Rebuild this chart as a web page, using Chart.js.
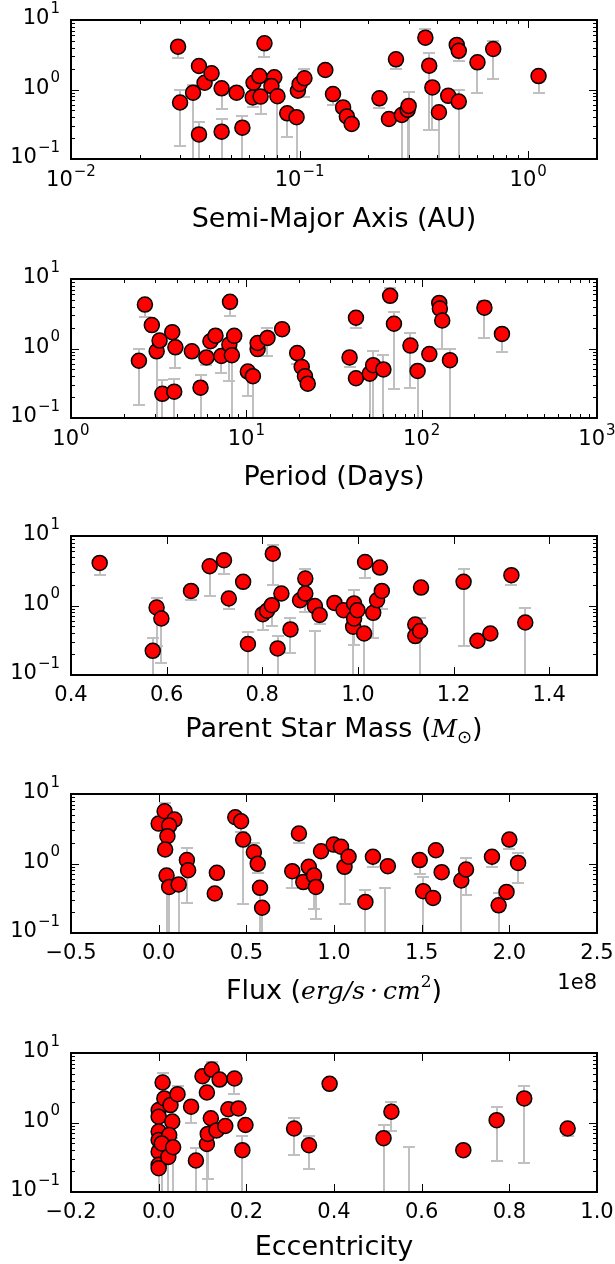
<!DOCTYPE html>
<html>
<head>
<meta charset="utf-8">
<script src="https://cdn.jsdelivr.net/npm/chart.js@4.4.0/dist/chart.umd.min.js"></script>
<style>
html, body { margin: 0; padding: 0; background: #fff; overflow: hidden; }
body { width: 615px; height: 1264px; position: relative; }
canvas { position: absolute; left: 0; }
</style>
</head>
<body>
<canvas id="c1" width="615" height="240" style="top:0px"></canvas>
<canvas id="c2" width="615" height="240" style="top:259px"></canvas>
<canvas id="c3" width="615" height="240" style="top:516px"></canvas>
<canvas id="c4" width="615" height="240" style="top:774px"></canvas>
<canvas id="c5" width="615" height="240" style="top:1033px"></canvas>
<script>
// planet mass (y, all panels) against five properties; lo/hi = ends of error bars (null = hidden)
const yTicks = [0.1, 1, 10];

// semi-major axis (AU)
const sma = [0.0294,0.030,0.0342,0.0363,0.0384,0.0363,0.0412,0.0456,0.0456,0.053,0.0562,0.0629,0.0624,0.0667,0.0675,0.0702,0.0775,0.0753,0.080,0.0883,0.097,0.0983,0.100,0.105,0.1296,0.140,0.155,0.161,0.169,0.2236,0.246,0.264,0.280,0.297,0.300,0.355,0.369,0.381,0.407,0.447,0.487,0.497,0.497,0.600,0.703,1.11];
const massA = [4.13,0.65,0.90,2.18,1.25,0.226,1.71,1.04,0.247,0.90,0.282,1.25,0.77,1.56,0.79,4.62,1.50,1.12,0.80,0.454,0.40,0.96,1.20,1.45,1.91,0.86,0.553,0.41,0.319,0.746,0.376,2.72,0.43,0.51,0.58,5.57,2.2,1.07,0.47,0.81,4.38,3.6,0.67,2.46,3.83,1.56];
const loA = [2.8,0.155,0.01,null,null,0.01,null,0.52,0.01,null,0.01,null,0.566,null,0.45,2.9,null,null,0.01,0.21,0.01,null,null,0.79,null,0.6,null,null,null,0.55,null,2.0,0.01,0.01,0.01,null,0.26,0.26,0.01,null,null,2.6,0.01,0.9,1.4,0.9];
const hiA = [null,1.0,1.15,null,null,0.34,null,null,0.38,null,0.42,null,null,null,null,null,null,null,1.0,null,null,null,null,1.95,null,null,null,null,null,null,null,null,null,null,0.93,7.3,3.4,null,null,1.0,5.2,null,1.0,null,5.0,null];

// period (days)
const period = [2.44,2.64,2.89,3.08,3.2,3.32,3.78,3.94,3.88,4.89,5.48,6.24,5.92,6.67,7.2,8.07,8.0,8.27,8.53,10.2,10.9,11.6,11.6,13.2,16.0,19.5,20.7,21.6,22.4,38.8,42.2,42.2,50.6,52.9,60.5,66.1,69.5,86.3,94.8,110.6,126,127,131,145,228,287];
const massP = [0.666,4.29,2.17,0.91,1.30,0.223,1.72,1.04,0.239,0.91,0.273,1.27,0.744,1.53,0.78,4.69,1.14,0.80,1.52,0.466,0.40,0.98,1.2,1.42,1.90,0.86,0.544,0.40,0.312,0.744,2.77,0.373,0.435,0.575,0.50,5.73,2.27,1.10,0.476,0.83,4.53,3.75,2.53,0.68,3.87,1.62];
const loP = [0.153,2.84,null,0.01,null,0.01,null,0.52,0.01,null,0.01,null,0.57,null,0.45,2.93,0.34,0.01,null,0.21,0.01,null,null,0.79,null,0.6,null,null,null,0.55,2.0,null,0.01,0.01,0.01,null,0.26,0.27,0.01,null,null,null,1.0,0.01,1.40,0.90];
const hiP = [1.0,null,null,null,null,0.35,null,null,0.37,null,0.41,null,null,null,null,null,null,1.0,null,null,null,null,null,1.95,null,null,null,null,null,null,null,null,null,0.93,0.80,7.3,3.4,1.65,null,1.0,5.3,null,null,1.0,4.9,null];

// parent star mass (solar masses)
const starMass = [0.46,0.571,0.579,0.589,0.651,0.69,0.72,0.73,0.76,0.77,0.801,0.81,0.82,0.822,0.832,0.84,0.859,0.879,0.89,0.89,0.91,0.92,0.951,0.970,0.99,0.992,0.992,0.999,1.013,1.015,1.032,1.04,1.046,1.05,1.12,1.12,1.13,1.132,1.221,1.25,1.277,1.321,1.35,0.91];
const massM = [4.1,0.223,0.936,0.65,1.62,3.67,4.48,1.26,2.19,0.279,0.75,0.84,1.01,5.57,0.241,1.49,0.453,1.19,2.44,1.49,0.98,0.73,1.09,0.857,0.494,1.07,0.65,0.857,0.396,4.23,0.785,1.19,3.51,1.62,0.533,0.363,0.43,1.81,2.19,0.311,0.396,2.73,0.57,0.06];
const loM = [2.73,0.01,0.26,0.15,1.19,1.36,2.88,0.876,null,0.01,0.45,null,0.5,2.0,0.01,null,0.205,null,null,0.8,null,0.55,null,null,0.01,null,0.27,null,0.01,2.5,0.34,null,null,0.9,null,null,0.01,null,0.26,null,null,1.96,0.01,0.01];
const hiM = [null,0.336,1.30,null,null,null,null,null,null,0.42,null,null,null,7.3,0.37,null,0.66,null,3.3,null,null,null,null,null,null,1.65,null,null,null,null,null,null,null,null,null,null,0.67,null,3.3,null,null,null,0.906,0.43];

// flux (units of 1e8 erg/s/cm^2)
const flux = [0.0,0.034,0.09,0.06,0.05,0.037,0.045,0.06,0.114,0.161,0.168,0.332,0.32,0.437,0.47,0.482,0.543,0.565,0.578,0.59,0.762,0.80,0.825,0.856,0.886,0.897,0.926,0.998,1.04,1.06,1.083,1.179,1.222,1.307,1.489,1.509,1.565,1.581,1.614,1.726,1.753,1.901,1.939,1.984,2.0,2.05,1.29];
const massF = [3.75,5.64,4.28,3.51,2.47,1.59,0.67,0.46,0.50,1.12,0.80,0.735,0.37,4.63,4.05,2.21,1.45,0.99,0.447,0.231,0.776,2.70,0.54,0.896,0.67,0.46,1.50,1.87,1.74,0.896,1.25,0.28,1.25,0.915,1.12,0.40,0.32,1.55,0.75,0.57,0.82,1.25,0.25,0.39,2.21,1.02,0.06];
const loF = [null,null,null,null,null,null,0.01,0.01,0.01,0.27,null,null,null,null,2.84,0.258,null,0.72,0.01,0.01,0.45,2.0,null,null,0.22,0.157,null,null,null,0.26,null,0.01,0.9,null,0.7,0.01,null,null,null,0.01,0.35,0.9,0.01,null,1.6,0.53,0.01];
const hiF = [null,7.3,null,null,null,null,null,null,null,1.65,null,null,null,null,null,null,1.95,null,null,null,null,null,null,null,null,null,null,null,null,null,null,0.42,null,null,null,0.65,null,null,null,null,1.2,null,0.38,null,null,1.4,0.45];

// eccentricity
const ecc = [0.009,0,0,0,0,0,0,0,0.013,0.027,0.031,0.024,0.007,0.022,0.033,0.043,0.074,0.085,0.10,0.121,0.139,0.173,0.11,0.119,0.11,0.112,0.132,0.152,0.159,0.182,0.198,0.191,0.309,0.343,0.39,0.513,0.531,0.57,0.695,0.771,0.834,0.933];
const massE = [3.76,1.51,1.21,0.74,0.56,0.38,0.246,0.22,2.22,1.78,1.03,0.66,0.50,0.32,0.44,2.56,1.69,0.284,4.63,5.78,4.15,4.3,2.70,1.15,0.49,0.685,0.77,0.89,1.55,1.59,0.92,0.40,0.82,0.47,3.6,0.595,1.43,0.06,0.40,1.08,2.22,0.82];
const loE = [null,null,null,null,null,null,null,0.01,null,null,0.6,null,0.01,0.01,0.01,null,1.0,0.01,null,null,null,2.56,null,null,0.01,0.155,null,null,null,null,null,0.01,0.34,0.216,null,0.01,0.75,0.01,null,0.275,0.26,0.63];
const hiE = [5.2,null,null,null,null,null,null,null,null,null,null,null,null,null,null,3.3,null,0.43,null,7.3,null,null,null,null,null,null,null,null,null,2.0,null,0.63,1.15,0.65,null,0.92,1.99,0.45,null,1.65,3.37,null];

const SANS = 'DejaVu Sans';
const TICKFONT = '21px ' + SANS;
const EXPFONT = '15px ' + SANS;
Chart.defaults.font.family = SANS;
Chart.defaults.color = '#000';

function linLabel(v) {
  return v.toFixed(1).replace('-', '−');
}
function logMinor(min, max) {
  const out = [];
  for (let e = Math.floor(Math.log10(min)); e <= Math.ceil(Math.log10(max)); e++) {
    for (let m = 2; m < 10; m++) {
      const v = m * Math.pow(10, e);
      if (v > min * 1.0001 && v < max * 0.9999) out.push(v);
    }
  }
  return out;
}

// "10" with a raised exponent; anchor 'right' (y axis) or 'center' (x axis)
function drawPow(ctx, v, ax, ay, anchor, expRise) {
  const e = String(Math.round(Math.log10(v))).replace('-', '−');
  ctx.textBaseline = 'middle';
  ctx.textAlign = 'left';
  ctx.font = TICKFONT;
  const wb = ctx.measureText('10').width;
  ctx.font = EXPFONT;
  const we = ctx.measureText(e).width + 1;
  const x0 = anchor === 'right' ? ax - wb - we : ax - (wb + we) / 2;
  ctx.font = TICKFONT;
  ctx.fillText('10', x0, ay);
  ctx.font = EXPFONT;
  ctx.fillText(e, x0 + wb + 1, ay - expRise);
}

function deco(cfg) {
  return {
    id: 'deco',
    beforeDatasetsDraw(chart) {
      const {ctx, chartArea: a} = chart;
      const x = chart.scales.x, y = chart.scales.y;
      ctx.save();
      ctx.beginPath();
      ctx.rect(a.left, a.top, a.right - a.left, a.bottom - a.top);
      ctx.clip();
      ctx.strokeStyle = '#c0c0c0';
      ctx.lineWidth = 2;
      chart.data.datasets[0].data.forEach(p => {
        const px = Math.round(x.getPixelForValue(p.x));
        const py = y.getPixelForValue(p.y);
        [p.lo, p.hi].forEach(v => {
          if (v == null) return;
          const pv = Math.round(y.getPixelForValue(v));
          ctx.beginPath();
          ctx.moveTo(px, py);
          ctx.lineTo(px, pv);
          ctx.moveTo(px - 6, pv);
          ctx.lineTo(px + 6, pv);
          ctx.stroke();
        });
      });
      ctx.restore();
    },
    afterDraw(chart) {
      const {ctx, chartArea: a} = chart;
      const x = chart.scales.x, y = chart.scales.y;
      const isLog = cfg.xType === 'logarithmic';
      ctx.save();
      ctx.strokeStyle = '#000';
      ctx.lineWidth = 1;
      const tick = (vals, len, axis) => {
        vals.forEach(v => {
          if (axis === 'y') {
            const p = Math.round(y.getPixelForValue(v)) + 0.5;
            ctx.beginPath();
            ctx.moveTo(a.left, p); ctx.lineTo(a.left + len, p);
            ctx.moveTo(a.right, p); ctx.lineTo(a.right - len, p);
            ctx.stroke();
          } else {
            const p = Math.round(x.getPixelForValue(v)) + 0.5;
            ctx.beginPath();
            ctx.moveTo(p, a.bottom); ctx.lineTo(p, a.bottom - len);
            ctx.moveTo(p, a.top); ctx.lineTo(p, a.top + len);
            ctx.stroke();
          }
        });
      };
      tick(yTicks, 8, 'y');
      tick(logMinor(0.1, 10), 4, 'y');
      tick(cfg.xMajor, 8, 'x');
      if (isLog) tick(logMinor(cfg.xMin, cfg.xMax), 4, 'x');
      ctx.lineWidth = 2;
      ctx.strokeRect(a.left, a.top, a.right - a.left, a.bottom - a.top);

      // tick labels
      ctx.fillStyle = '#000';
      yTicks.forEach(v => drawPow(ctx, v, a.left - 11, y.getPixelForValue(v) - 1, 'right', 10));
      cfg.xMajor.forEach(v => {
        const px = x.getPixelForValue(v);
        if (isLog) {
          drawPow(ctx, v, px, a.bottom + 22, 'center', 9);
        } else {
          ctx.font = TICKFONT;
          ctx.textAlign = 'center';
          ctx.textBaseline = 'middle';
          ctx.fillText(linLabel(v), px, a.bottom + 21);
        }
      });

      // axis label from mixed-font parts
      ctx.textBaseline = 'alphabetic';
      ctx.textAlign = 'left';
      let w = 0;
      const widths = cfg.title.map(p => { ctx.font = p.font; const m = ctx.measureText(p.t).width; w += m; return m; });
      let cx = (a.left + a.right) / 2 - w / 2;
      cfg.title.forEach((p, i) => {
        ctx.font = p.font;
        ctx.fillText(p.t, cx, a.bottom + cfg.titleDy + (p.dy || 0));
        cx += widths[i];
      });
      if (cfg.offsetText) {
        ctx.font = TICKFONT;
        ctx.textAlign = 'right';
        ctx.fillText(cfg.offsetText, a.right, a.bottom + 56);
      }
      ctx.restore();
    }
  };
}

function makePanel(id, cfg) {
  const pts = cfg.xs.map((v, i) => ({x: v, y: cfg.ys[i], lo: cfg.lo[i], hi: cfg.hi[i]}));
  new Chart(document.getElementById(id), {
    type: 'scatter',
    data: {
      datasets: [{
        data: pts,
        pointRadius: 7.5,
        pointHoverRadius: 7.5,
        pointBackgroundColor: '#ff0000',
        pointBorderColor: '#000',
        pointBorderWidth: 1.5,
        clip: 0
      }]
    },
    options: {
      responsive: false,
      animation: false,
      events: [],
      layout: {padding: {top: 20, right: 18, left: 0, bottom: 0}},
      plugins: {legend: {display: false}, tooltip: {enabled: false}},
      scales: {
        x: {
          type: cfg.xType,
          min: cfg.xMin,
          max: cfg.xMax,
          grid: {display: false, drawTicks: false},
          border: {display: false},
          ticks: {display: false},
          afterBuildTicks: s => { s.ticks = cfg.xMajor.map(v => ({value: v})); },
          afterFit: s => { s.height = 81; s.paddingLeft = 0; s.paddingRight = 0; }
        },
        y: {
          type: 'logarithmic',
          min: 0.1,
          max: 10,
          grid: {display: false, drawTicks: false},
          border: {display: false},
          ticks: {display: false},
          afterBuildTicks: s => { s.ticks = yTicks.map(v => ({value: v})); },
          afterFit: s => { s.width = 71; s.paddingTop = 0; s.paddingBottom = 0; }
        }
      }
    },
    plugins: [deco(cfg)]
  });
}

const TITLE = '27px ' + SANS;
const MATH = 'italic 25px "DejaVu Serif"';

makePanel('c1', {
  xType: 'logarithmic', xMin: 0.01, xMax: 2, xMajor: [0.01, 0.1, 1],
  xs: sma, ys: massA, lo: loA, hi: hiA,
  title: [{t: 'Semi-Major Axis (AU)', font: TITLE}], titleDy: 68
});
makePanel('c2', {
  xType: 'logarithmic', xMin: 1, xMax: 1000, xMajor: [1, 10, 100, 1000],
  xs: period, ys: massP, lo: loP, hi: hiP,
  title: [{t: 'Period (Days)', font: TITLE}], titleDy: 67
});
makePanel('c3', {
  xType: 'linear', xMin: 0.4, xMax: 1.5, xMajor: [0.4, 0.6, 0.8, 1.0, 1.2, 1.4],
  xs: starMass, ys: massM, lo: loM, hi: hiM,
  title: [
    {t: 'Parent Star Mass (', font: TITLE},
    {t: 'M', font: MATH},
    {t: '⊙', font: '18px ' + SANS, dy: 6},
    {t: ')', font: TITLE}
  ], titleDy: 62
});
makePanel('c4', {
  xType: 'linear', xMin: -0.5, xMax: 2.5, xMajor: [-0.5, 0, 0.5, 1.0, 1.5, 2.0, 2.5],
  xs: flux, ys: massF, lo: loF, hi: hiF,
  title: [
    {t: 'Flux (', font: TITLE},
    {t: 'erg/s\u2009·\u2009cm', font: MATH},
    {t: '2', font: '17px "DejaVu Serif"', dy: -12},
    {t: ')', font: TITLE}
  ], titleDy: 66, offsetText: '1e8'
});
makePanel('c5', {
  xType: 'linear', xMin: -0.2, xMax: 1.0, xMajor: [-0.2, 0, 0.2, 0.4, 0.6, 0.8, 1.0],
  xs: ecc, ys: massE, lo: loE, hi: hiE,
  title: [{t: 'Eccentricity', font: TITLE}], titleDy: 63
});
</script>
</body>
</html>
